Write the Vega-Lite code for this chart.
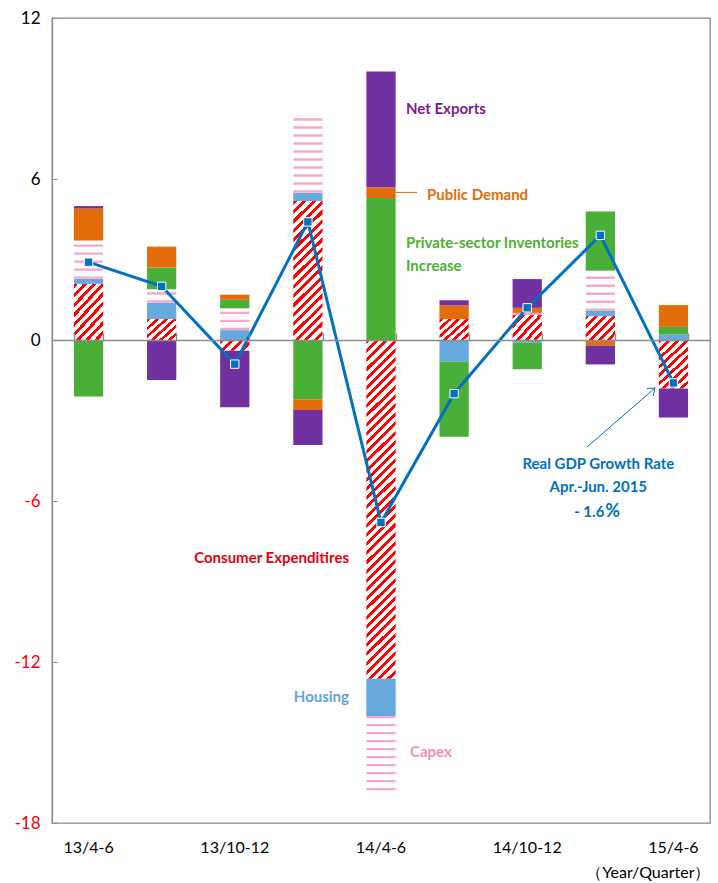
{
  "$schema": "https://vega.github.io/schema/vega-lite/v6.json",
  "width": 658,
  "height": 805,
  "autosize": {"type": "none"},
  "padding": {"left": 52, "top": 18, "right": 8, "bottom": 60},
  "config": {
    "font": "Lato, sans-serif",
    "view": {"stroke": "#8c8c8c", "strokeWidth": 1.3},
    "axis": {"grid": false}
  },
  "datasets": {
    "components": [
      {"quarter": "13/4-6", "series": "Consumer Expenditures", "value": 2.09},
      {"quarter": "13/4-6", "series": "Housing", "value": 0.19},
      {"quarter": "13/4-6", "series": "Capex", "value": 1.43},
      {"quarter": "13/4-6", "series": "Private-sector Inventories Increase", "value": -2.11},
      {"quarter": "13/4-6", "series": "Public Demand", "value": 1.19},
      {"quarter": "13/4-6", "series": "Net Exports", "value": 0.09},
      {"quarter": "13/7-9", "series": "Consumer Expenditures", "value": 0.78},
      {"quarter": "13/7-9", "series": "Housing", "value": 0.61},
      {"quarter": "13/7-9", "series": "Capex", "value": 0.5},
      {"quarter": "13/7-9", "series": "Private-sector Inventories Increase", "value": 0.81},
      {"quarter": "13/7-9", "series": "Public Demand", "value": 0.78},
      {"quarter": "13/7-9", "series": "Net Exports", "value": -1.49},
      {"quarter": "13/10-12", "series": "Consumer Expenditures", "value": -0.4},
      {"quarter": "13/10-12", "series": "Housing", "value": 0.37},
      {"quarter": "13/10-12", "series": "Capex", "value": 0.81},
      {"quarter": "13/10-12", "series": "Private-sector Inventories Increase", "value": 0.32},
      {"quarter": "13/10-12", "series": "Public Demand", "value": 0.19},
      {"quarter": "13/10-12", "series": "Net Exports", "value": -2.11},
      {"quarter": "14/1-3", "series": "Consumer Expenditures", "value": 5.18},
      {"quarter": "14/1-3", "series": "Housing", "value": 0.31},
      {"quarter": "14/1-3", "series": "Capex", "value": 2.81},
      {"quarter": "14/1-3", "series": "Private-sector Inventories Increase", "value": -2.21},
      {"quarter": "14/1-3", "series": "Public Demand", "value": -0.4},
      {"quarter": "14/1-3", "series": "Net Exports", "value": -1.3},
      {"quarter": "14/4-6", "series": "Consumer Expenditures", "value": -12.62},
      {"quarter": "14/4-6", "series": "Housing", "value": -1.39},
      {"quarter": "14/4-6", "series": "Capex", "value": -2.78},
      {"quarter": "14/4-6", "series": "Private-sector Inventories Increase", "value": 5.29},
      {"quarter": "14/4-6", "series": "Public Demand", "value": 0.4},
      {"quarter": "14/4-6", "series": "Net Exports", "value": 4.32},
      {"quarter": "14/7-9", "series": "Consumer Expenditures", "value": 0.78},
      {"quarter": "14/7-9", "series": "Housing", "value": -0.81},
      {"quarter": "14/7-9", "series": "Private-sector Inventories Increase", "value": -2.8},
      {"quarter": "14/7-9", "series": "Public Demand", "value": 0.51},
      {"quarter": "14/7-9", "series": "Net Exports", "value": 0.19},
      {"quarter": "14/10-12", "series": "Consumer Expenditures", "value": 0.93},
      {"quarter": "14/10-12", "series": "Housing", "value": -0.1},
      {"quarter": "14/10-12", "series": "Capex", "value": 0.08},
      {"quarter": "14/10-12", "series": "Private-sector Inventories Increase", "value": -0.99},
      {"quarter": "14/10-12", "series": "Public Demand", "value": 0.19},
      {"quarter": "14/10-12", "series": "Net Exports", "value": 1.07},
      {"quarter": "15/1-3", "series": "Consumer Expenditures", "value": 0.89},
      {"quarter": "15/1-3", "series": "Housing", "value": 0.19},
      {"quarter": "15/1-3", "series": "Capex", "value": 1.5},
      {"quarter": "15/1-3", "series": "Private-sector Inventories Increase", "value": 2.21},
      {"quarter": "15/1-3", "series": "Public Demand", "value": -0.21},
      {"quarter": "15/1-3", "series": "Net Exports", "value": -0.7},
      {"quarter": "15/4-6", "series": "Consumer Expenditures", "value": -1.81},
      {"quarter": "15/4-6", "series": "Housing", "value": 0.21},
      {"quarter": "15/4-6", "series": "Private-sector Inventories Increase", "value": 0.28},
      {"quarter": "15/4-6", "series": "Public Demand", "value": 0.81},
      {"quarter": "15/4-6", "series": "Net Exports", "value": -1.08}
    ],
    "gdp": [
      {"quarter": "13/4-6", "gdp": 2.9},
      {"quarter": "13/7-9", "gdp": 2.0},
      {"quarter": "13/10-12", "gdp": -0.9},
      {"quarter": "14/1-3", "gdp": 4.4},
      {"quarter": "14/4-6", "gdp": -6.8},
      {"quarter": "14/7-9", "gdp": -2.0},
      {"quarter": "14/10-12", "gdp": 1.2},
      {"quarter": "15/1-3", "gdp": 3.9},
      {"quarter": "15/4-6", "gdp": -1.6}
    ]
  },
  "resolve": {"axis": {"x": "independent"}},
  "layer": [
    {
      "data": {"name": "components"},
      "transform": [
        {"calculate": "indexof(['Consumer Expenditures','Housing','Capex','Private-sector Inventories Increase','Public Demand','Net Exports'], datum.series)", "as": "order"},
        {"stack": "value", "groupby": ["quarter"], "sort": [{"field": "order", "order": "ascending"}], "as": ["v0", "v1"], "offset": "zero"}
      ],
      "mark": {"type": "bar"},
      "encoding": {
        "x": {
          "field": "quarter", "type": "nominal",
          "scale": {"domain": ["13/4-6","13/7-9","13/10-12","14/1-3","14/4-6","14/7-9","14/10-12","15/1-3","15/4-6"], "paddingInner": 0.6, "paddingOuter": 0.3},
          "axis": {"orient": "bottom", "offset": -483, "labels": false, "title": null, "tickBand": "extent", "tickSize": -7, "tickColor": "#8c8c8c", "tickWidth": 1.3, "domainColor": "#8c8c8c", "domainWidth": 1.6, "zindex": 1}
        },
        "y": {
          "field": "v0", "type": "quantitative",
          "scale": {"domain": [-18, 12], "nice": false, "zero": false},
          "axis": {"values": [-18, -12, -6, 0, 6, 12], "title": null, "labelFontSize": 17, "labelPadding": 17,
            "labelExpr": "replace(datum.label, '−', '-')",
            "labelColor": {"condition": {"test": "datum.value < 0", "value": "#ff0000"}, "value": "#000000"},
            "tickSize": -5, "tickColor": "#8c8c8c", "domainColor": "#8c8c8c", "domainWidth": 1.3, "grid": false}
        },
        "y2": {"field": "v1"},
        "fill": {
          "field": "series", "type": "nominal", "legend": null,
          "scale": {"domain": ["Consumer Expenditures","Housing","Capex","Private-sector Inventories Increase","Public Demand","Net Exports"],
                    "range": ["#ff0000","#65a9dd","#ffffff","#4aaf38","#e46c0a","#7030a0"]},
          "condition": [
            {"test": "datum.series === 'Consumer Expenditures' && abs(datum.value) < 0.6",
             "value": {"gradient": "linear", "x1": 0, "y1": 0, "x2": 1.205, "y2": 0.446, "stops": [
               {"offset":0,"color":"red"},{"offset":0.1125,"color":"red"},{"offset":0.1125,"color":"white"},{"offset":0.25,"color":"white"},
               {"offset":0.25,"color":"red"},{"offset":0.3625,"color":"red"},{"offset":0.3625,"color":"white"},{"offset":0.5,"color":"white"},
               {"offset":0.5,"color":"red"},{"offset":0.6125,"color":"red"},{"offset":0.6125,"color":"white"},{"offset":0.75,"color":"white"},
               {"offset":0.75,"color":"red"},{"offset":0.8625,"color":"red"},{"offset":0.8625,"color":"white"},{"offset":1,"color":"white"}]}},
            {"test": "datum.series === 'Consumer Expenditures' && abs(datum.value) < 1.5",
             "value": {"gradient": "linear", "x1": 0, "y1": 0, "x2": 1.1, "y2": 0.873, "stops": [
               {"offset":0,"color":"red"},{"offset":0.075,"color":"red"},{"offset":0.075,"color":"white"},{"offset":0.1667,"color":"white"},
               {"offset":0.1667,"color":"red"},{"offset":0.2417,"color":"red"},{"offset":0.2417,"color":"white"},{"offset":0.3333,"color":"white"},
               {"offset":0.3333,"color":"red"},{"offset":0.4083,"color":"red"},{"offset":0.4083,"color":"white"},{"offset":0.5,"color":"white"},
               {"offset":0.5,"color":"red"},{"offset":0.575,"color":"red"},{"offset":0.575,"color":"white"},{"offset":0.6667,"color":"white"},
               {"offset":0.6667,"color":"red"},{"offset":0.7417,"color":"red"},{"offset":0.7417,"color":"white"},{"offset":0.8333,"color":"white"},
               {"offset":0.8333,"color":"red"},{"offset":0.9083,"color":"red"},{"offset":0.9083,"color":"white"},{"offset":1,"color":"white"}]}},
            {"test": "datum.series === 'Consumer Expenditures' && abs(datum.value) < 3",
             "value": {"gradient": "linear", "x1": 0, "y1": 0, "x2": 0.663, "y2": 1.188, "stops": [
               {"offset":0,"color":"red"},{"offset":0.05,"color":"red"},{"offset":0.05,"color":"white"},{"offset":0.1111,"color":"white"},
               {"offset":0.1111,"color":"red"},{"offset":0.1611,"color":"red"},{"offset":0.1611,"color":"white"},{"offset":0.2222,"color":"white"},
               {"offset":0.2222,"color":"red"},{"offset":0.2722,"color":"red"},{"offset":0.2722,"color":"white"},{"offset":0.3333,"color":"white"},
               {"offset":0.3333,"color":"red"},{"offset":0.3833,"color":"red"},{"offset":0.3833,"color":"white"},{"offset":0.4444,"color":"white"},
               {"offset":0.4444,"color":"red"},{"offset":0.4944,"color":"red"},{"offset":0.4944,"color":"white"},{"offset":0.5556,"color":"white"},
               {"offset":0.5556,"color":"red"},{"offset":0.6056,"color":"red"},{"offset":0.6056,"color":"white"},{"offset":0.6667,"color":"white"},
               {"offset":0.6667,"color":"red"},{"offset":0.7167,"color":"red"},{"offset":0.7167,"color":"white"},{"offset":0.7778,"color":"white"},
               {"offset":0.7778,"color":"red"},{"offset":0.8278,"color":"red"},{"offset":0.8278,"color":"white"},{"offset":0.8889,"color":"white"},
               {"offset":0.8889,"color":"red"},{"offset":0.9389,"color":"red"},{"offset":0.9389,"color":"white"},{"offset":1,"color":"white"}]}},
            {"test": "datum.series === 'Consumer Expenditures' && abs(datum.value) < 8",
             "value": {"gradient": "linear", "x1": 0, "y1": 0, "x2": 0.2416, "y2": 1.158, "stops": [
               {"offset":0,"color":"red"},{"offset":0.025,"color":"red"},{"offset":0.025,"color":"white"},{"offset":0.0556,"color":"white"},
               {"offset":0.0556,"color":"red"},{"offset":0.0806,"color":"red"},{"offset":0.0806,"color":"white"},{"offset":0.1111,"color":"white"},
               {"offset":0.1111,"color":"red"},{"offset":0.1361,"color":"red"},{"offset":0.1361,"color":"white"},{"offset":0.1667,"color":"white"},
               {"offset":0.1667,"color":"red"},{"offset":0.1917,"color":"red"},{"offset":0.1917,"color":"white"},{"offset":0.2222,"color":"white"},
               {"offset":0.2222,"color":"red"},{"offset":0.2472,"color":"red"},{"offset":0.2472,"color":"white"},{"offset":0.2778,"color":"white"},
               {"offset":0.2778,"color":"red"},{"offset":0.3028,"color":"red"},{"offset":0.3028,"color":"white"},{"offset":0.3333,"color":"white"},
               {"offset":0.3333,"color":"red"},{"offset":0.3583,"color":"red"},{"offset":0.3583,"color":"white"},{"offset":0.3889,"color":"white"},
               {"offset":0.3889,"color":"red"},{"offset":0.4139,"color":"red"},{"offset":0.4139,"color":"white"},{"offset":0.4444,"color":"white"},
               {"offset":0.4444,"color":"red"},{"offset":0.4694,"color":"red"},{"offset":0.4694,"color":"white"},{"offset":0.5,"color":"white"},
               {"offset":0.5,"color":"red"},{"offset":0.525,"color":"red"},{"offset":0.525,"color":"white"},{"offset":0.5556,"color":"white"},
               {"offset":0.5556,"color":"red"},{"offset":0.5806,"color":"red"},{"offset":0.5806,"color":"white"},{"offset":0.6111,"color":"white"},
               {"offset":0.6111,"color":"red"},{"offset":0.6361,"color":"red"},{"offset":0.6361,"color":"white"},{"offset":0.6667,"color":"white"},
               {"offset":0.6667,"color":"red"},{"offset":0.6917,"color":"red"},{"offset":0.6917,"color":"white"},{"offset":0.7222,"color":"white"},
               {"offset":0.7222,"color":"red"},{"offset":0.7472,"color":"red"},{"offset":0.7472,"color":"white"},{"offset":0.7778,"color":"white"},
               {"offset":0.7778,"color":"red"},{"offset":0.8028,"color":"red"},{"offset":0.8028,"color":"white"},{"offset":0.8333,"color":"white"},
               {"offset":0.8333,"color":"red"},{"offset":0.8583,"color":"red"},{"offset":0.8583,"color":"white"},{"offset":0.8889,"color":"white"},
               {"offset":0.8889,"color":"red"},{"offset":0.9139,"color":"red"},{"offset":0.9139,"color":"white"},{"offset":0.9444,"color":"white"},
               {"offset":0.9444,"color":"red"},{"offset":0.9694,"color":"red"},{"offset":0.9694,"color":"white"},{"offset":1,"color":"white"}]}},
            {"test": "datum.series === 'Consumer Expenditures'",
             "value": {"gradient": "linear", "x1": 0, "y1": 0, "x2": 0.0923, "y2": 1.0777, "stops": [
               {"offset":0,"color":"red"},{"offset":0.011,"color":"red"},{"offset":0.011,"color":"white"},{"offset":0.025,"color":"white"},
               {"offset":0.025,"color":"red"},{"offset":0.036,"color":"red"},{"offset":0.036,"color":"white"},{"offset":0.05,"color":"white"},
               {"offset":0.05,"color":"red"},{"offset":0.061,"color":"red"},{"offset":0.061,"color":"white"},{"offset":0.075,"color":"white"},
               {"offset":0.075,"color":"red"},{"offset":0.086,"color":"red"},{"offset":0.086,"color":"white"},{"offset":0.1,"color":"white"},
               {"offset":0.1,"color":"red"},{"offset":0.111,"color":"red"},{"offset":0.111,"color":"white"},{"offset":0.125,"color":"white"},
               {"offset":0.125,"color":"red"},{"offset":0.136,"color":"red"},{"offset":0.136,"color":"white"},{"offset":0.15,"color":"white"},
               {"offset":0.15,"color":"red"},{"offset":0.161,"color":"red"},{"offset":0.161,"color":"white"},{"offset":0.175,"color":"white"},
               {"offset":0.175,"color":"red"},{"offset":0.186,"color":"red"},{"offset":0.186,"color":"white"},{"offset":0.2,"color":"white"},
               {"offset":0.2,"color":"red"},{"offset":0.211,"color":"red"},{"offset":0.211,"color":"white"},{"offset":0.225,"color":"white"},
               {"offset":0.225,"color":"red"},{"offset":0.236,"color":"red"},{"offset":0.236,"color":"white"},{"offset":0.25,"color":"white"},
               {"offset":0.25,"color":"red"},{"offset":0.261,"color":"red"},{"offset":0.261,"color":"white"},{"offset":0.275,"color":"white"},
               {"offset":0.275,"color":"red"},{"offset":0.286,"color":"red"},{"offset":0.286,"color":"white"},{"offset":0.3,"color":"white"},
               {"offset":0.3,"color":"red"},{"offset":0.311,"color":"red"},{"offset":0.311,"color":"white"},{"offset":0.325,"color":"white"},
               {"offset":0.325,"color":"red"},{"offset":0.336,"color":"red"},{"offset":0.336,"color":"white"},{"offset":0.35,"color":"white"},
               {"offset":0.35,"color":"red"},{"offset":0.361,"color":"red"},{"offset":0.361,"color":"white"},{"offset":0.375,"color":"white"},
               {"offset":0.375,"color":"red"},{"offset":0.386,"color":"red"},{"offset":0.386,"color":"white"},{"offset":0.4,"color":"white"},
               {"offset":0.4,"color":"red"},{"offset":0.411,"color":"red"},{"offset":0.411,"color":"white"},{"offset":0.425,"color":"white"},
               {"offset":0.425,"color":"red"},{"offset":0.436,"color":"red"},{"offset":0.436,"color":"white"},{"offset":0.45,"color":"white"},
               {"offset":0.45,"color":"red"},{"offset":0.461,"color":"red"},{"offset":0.461,"color":"white"},{"offset":0.475,"color":"white"},
               {"offset":0.475,"color":"red"},{"offset":0.486,"color":"red"},{"offset":0.486,"color":"white"},{"offset":0.5,"color":"white"},
               {"offset":0.5,"color":"red"},{"offset":0.511,"color":"red"},{"offset":0.511,"color":"white"},{"offset":0.525,"color":"white"},
               {"offset":0.525,"color":"red"},{"offset":0.536,"color":"red"},{"offset":0.536,"color":"white"},{"offset":0.55,"color":"white"},
               {"offset":0.55,"color":"red"},{"offset":0.561,"color":"red"},{"offset":0.561,"color":"white"},{"offset":0.575,"color":"white"},
               {"offset":0.575,"color":"red"},{"offset":0.586,"color":"red"},{"offset":0.586,"color":"white"},{"offset":0.6,"color":"white"},
               {"offset":0.6,"color":"red"},{"offset":0.611,"color":"red"},{"offset":0.611,"color":"white"},{"offset":0.625,"color":"white"},
               {"offset":0.625,"color":"red"},{"offset":0.636,"color":"red"},{"offset":0.636,"color":"white"},{"offset":0.65,"color":"white"},
               {"offset":0.65,"color":"red"},{"offset":0.661,"color":"red"},{"offset":0.661,"color":"white"},{"offset":0.675,"color":"white"},
               {"offset":0.675,"color":"red"},{"offset":0.686,"color":"red"},{"offset":0.686,"color":"white"},{"offset":0.7,"color":"white"},
               {"offset":0.7,"color":"red"},{"offset":0.711,"color":"red"},{"offset":0.711,"color":"white"},{"offset":0.725,"color":"white"},
               {"offset":0.725,"color":"red"},{"offset":0.736,"color":"red"},{"offset":0.736,"color":"white"},{"offset":0.75,"color":"white"},
               {"offset":0.75,"color":"red"},{"offset":0.761,"color":"red"},{"offset":0.761,"color":"white"},{"offset":0.775,"color":"white"},
               {"offset":0.775,"color":"red"},{"offset":0.786,"color":"red"},{"offset":0.786,"color":"white"},{"offset":0.8,"color":"white"},
               {"offset":0.8,"color":"red"},{"offset":0.811,"color":"red"},{"offset":0.811,"color":"white"},{"offset":0.825,"color":"white"},
               {"offset":0.825,"color":"red"},{"offset":0.836,"color":"red"},{"offset":0.836,"color":"white"},{"offset":0.85,"color":"white"},
               {"offset":0.85,"color":"red"},{"offset":0.861,"color":"red"},{"offset":0.861,"color":"white"},{"offset":0.875,"color":"white"},
               {"offset":0.875,"color":"red"},{"offset":0.886,"color":"red"},{"offset":0.886,"color":"white"},{"offset":0.9,"color":"white"},
               {"offset":0.9,"color":"red"},{"offset":0.911,"color":"red"},{"offset":0.911,"color":"white"},{"offset":0.925,"color":"white"},
               {"offset":0.925,"color":"red"},{"offset":0.936,"color":"red"},{"offset":0.936,"color":"white"},{"offset":0.95,"color":"white"},
               {"offset":0.95,"color":"red"},{"offset":0.961,"color":"red"},{"offset":0.961,"color":"white"},{"offset":0.975,"color":"white"},
               {"offset":0.975,"color":"red"},{"offset":0.986,"color":"red"},{"offset":0.986,"color":"white"},{"offset":1,"color":"white"}]}}
          ]
        }
      }
    },
    {
      "data": {"name": "components"},
      "transform": [
        {"calculate": "indexof(['Consumer Expenditures','Housing','Capex','Private-sector Inventories Increase','Public Demand','Net Exports'], datum.series)", "as": "order"},
        {"stack": "value", "groupby": ["quarter"], "sort": [{"field": "order", "order": "ascending"}], "as": ["v0", "v1"], "offset": "zero"},
        {"filter": "datum.series === 'Capex'"}
      ],
      "mark": {"type": "rule", "strokeWidth": 29, "strokeDash": [2.4, 5.6], "color": "#f5a8ca", "strokeCap": "butt"},
      "encoding": {
        "x": {"field": "quarter", "type": "nominal", "axis": null},
        "y": {"field": "v0", "type": "quantitative"},
        "y2": {"field": "v1"}
      }
    },
    {
      "data": {"name": "gdp"},
      "mark": {"type": "line", "color": "#0070c0", "strokeWidth": 3},
      "encoding": {
        "x": {"field": "quarter", "type": "nominal",
          "axis": {"orient": "bottom", "domain": false, "ticks": false, "labelAngle": 0, "labelFontSize": 16, "labelColor": "#000000", "labelPadding": 16,
            "labelExpr": "indexof(['13/4-6','13/10-12','14/4-6','14/10-12','15/4-6'], datum.value) >= 0 ? datum.label : ''",
            "title": "（Year/Quarter）", "titleAnchor": "end", "titleFontSize": 16, "titleFontWeight": "normal", "titleColor": "#000000", "titlePadding": 9}},
        "y": {"field": "gdp", "type": "quantitative"}
      }
    },
    {
      "data": {"name": "gdp"},
      "mark": {"type": "point", "shape": "square", "filled": true, "size": 70, "color": "#0070c0", "stroke": "#ffffff", "strokeWidth": 1, "opacity": 1},
      "encoding": {
        "x": {"field": "quarter", "type": "nominal", "axis": null},
        "y": {"field": "gdp", "type": "quantitative"}
      }
    },
    {
      "data": {"values": [{}]},
      "mark": {"type": "text", "align": "left", "baseline": "middle", "dx": 25, "fontSize": 15, "fontWeight": "bold", "color": "#7e1b8e"},
      "encoding": {"x": {"datum": "14/4-6", "axis": null}, "y": {"datum": 8.61}, "text": {"value": "Net Exports"}}
    },
    {
      "data": {"values": [{}]},
      "mark": {"type": "text", "align": "left", "baseline": "middle", "dx": 46, "fontSize": 15, "fontWeight": "bold", "color": "#e46c0a"},
      "encoding": {"x": {"datum": "14/4-6", "axis": null}, "y": {"datum": 5.4}, "text": {"value": "Public Demand"}}
    },
    {
      "data": {"values": [{}]},
      "mark": {"type": "rule", "xOffset": 15, "x2Offset": 36, "color": "#e46c0a", "strokeWidth": 1},
      "encoding": {"x": {"datum": "14/4-6", "axis": null}, "x2": {"datum": "14/4-6"}, "y": {"datum": 5.5}}
    },
    {
      "data": {"values": [{}]},
      "mark": {"type": "text", "align": "left", "baseline": "middle", "dx": 25, "fontSize": 15, "fontWeight": "bold", "color": "#4cb034"},
      "encoding": {"x": {"datum": "14/4-6", "axis": null}, "y": {"datum": 3.6}, "text": {"value": "Private-sector Inventories"}}
    },
    {
      "data": {"values": [{}]},
      "mark": {"type": "text", "align": "left", "baseline": "middle", "dx": 25, "fontSize": 15, "fontWeight": "bold", "color": "#4cb034"},
      "encoding": {"x": {"datum": "14/4-6", "axis": null}, "y": {"datum": 2.76}, "text": {"value": "Increase"}}
    },
    {
      "data": {"values": [{}]},
      "mark": {"type": "text", "align": "right", "baseline": "middle", "dx": -32, "fontSize": 15, "fontWeight": "bold", "color": "#e60012"},
      "encoding": {"x": {"datum": "14/4-6", "axis": null}, "y": {"datum": -8.14}, "text": {"value": "Consumer Expenditires"}}
    },
    {
      "data": {"values": [{}]},
      "mark": {"type": "text", "align": "right", "baseline": "middle", "dx": -32, "fontSize": 15, "fontWeight": "bold", "color": "#5da5da"},
      "encoding": {"x": {"datum": "14/4-6", "axis": null}, "y": {"datum": -13.29}, "text": {"value": "Housing"}}
    },
    {
      "data": {"values": [{}]},
      "mark": {"type": "text", "align": "left", "baseline": "middle", "dx": 29, "fontSize": 15, "fontWeight": "bold", "color": "#f28dbb"},
      "encoding": {"x": {"datum": "14/4-6", "axis": null}, "y": {"datum": -15.34}, "text": {"value": "Capex"}}
    },
    {
      "data": {"values": [{}]},
      "mark": {"type": "text", "align": "center", "baseline": "middle", "dx": -2, "fontSize": 15, "fontWeight": "bold", "color": "#0070c0"},
      "encoding": {"x": {"datum": "15/1-3", "axis": null}, "y": {"datum": -4.63}, "text": {"value": "Real GDP Growth Rate"}}
    },
    {
      "data": {"values": [{}]},
      "mark": {"type": "text", "align": "center", "baseline": "middle", "dx": -2, "fontSize": 15, "fontWeight": "bold", "color": "#0070c0"},
      "encoding": {"x": {"datum": "15/1-3", "axis": null}, "y": {"datum": -5.49}, "text": {"value": "Apr.-Jun. 2015"}}
    },
    {
      "data": {"values": [{}]},
      "mark": {"type": "text", "align": "right", "baseline": "middle", "dx": 4, "fontSize": 15, "fontWeight": "bold", "color": "#0070c0"},
      "encoding": {"x": {"datum": "15/1-3", "axis": null}, "y": {"datum": -6.4}, "text": {"value": "- 1.6"}}
    },
    {
      "data": {"values": [{}]},
      "mark": {"type": "text", "align": "left", "baseline": "middle", "dx": 5, "fontSize": 18, "fontWeight": "bold", "color": "#0070c0"},
      "encoding": {"x": {"datum": "15/1-3", "axis": null}, "y": {"datum": -6.4}, "text": {"value": "%"}}
    },
    {
      "data": {"values": [{}]},
      "mark": {"type": "rule", "xOffset": -13.4, "x2Offset": -18.5, "color": "#0070c0", "strokeWidth": 1},
      "encoding": {"x": {"datum": "15/1-3", "axis": null}, "x2": {"datum": "15/4-6"}, "y": {"datum": -3.99}, "y2": {"datum": -1.79}}
    },
    {
      "data": {"values": [{}]},
      "mark": {"type": "point", "shape": "M-1,-0.75L0,0L-1,0.75", "filled": false, "size": 170, "angle": 319, "xOffset": -18.5, "color": "#0070c0", "strokeWidth": 1, "opacity": 1},
      "encoding": {"x": {"datum": "15/4-6", "axis": null}, "y": {"datum": -1.79}}
    }
  ]
}
